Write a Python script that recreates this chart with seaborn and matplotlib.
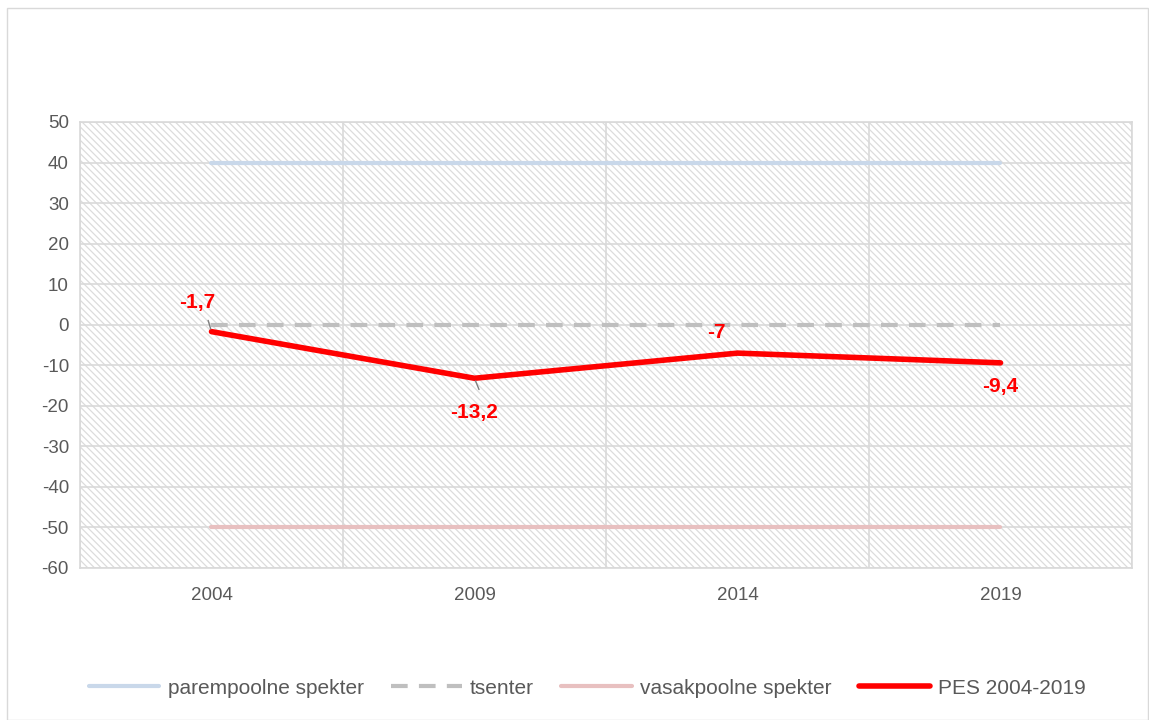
import matplotlib
matplotlib.use("Agg")
import matplotlib.pyplot as plt
import seaborn as sns
import pandas as pd
from matplotlib.patches import Rectangle

years = ["2004", "2009", "2014", "2019"]
parem = [40, 40, 40, 40]
tsenter = [0, 0, 0, 0]
vasak = [-50, -50, -50, -50]
pes = [-1.7, -13.2, -7, -9.4]
pes_labels = ["-1,7", "-13,2", "-7", "-9,4"]
yticks = list(range(-60, 51, 10))

sns.set_theme(style="white")
plt.rcParams['font.family'] = ['Liberation Sans', 'DejaVu Sans']
plt.rcParams['hatch.color'] = '#dcdcdc'
plt.rcParams['hatch.linewidth'] = 0.9

fig = plt.figure(figsize=(11.49, 7.2), dpi=100)
ax = fig.add_axes([80/1149, 1-568/720, (1132-80)/1149, (568-122)/720])

xs = list(range(len(years)))
df = pd.DataFrame({"x": xs, "parem": parem, "tsenter": tsenter, "vasak": vasak, "pes": pes})

ax.patch.set_facecolor('white')
ax.patch.set_hatch('\\' * 5)
ax.patch.set_edgecolor('#dcdcdc')

sns.lineplot(data=df, x="x", y="parem", ax=ax, color='#c9d8ea', linewidth=3, label='parempoolne spekter')
sns.lineplot(data=df, x="x", y="tsenter", ax=ax, color='#bfbfbf', linewidth=3, linestyle=(0, (4, 2.7)), label='tsenter')
sns.lineplot(data=df, x="x", y="vasak", ax=ax, color='#e8c0c0', linewidth=3, label='vasakpoolne spekter')
sns.lineplot(data=df, x="x", y="pes", ax=ax, color='#ff0000', linewidth=4, label='PES 2004-2019')

ax.set_xlim(-0.5, len(years) - 0.5)
ax.set_ylim(-60, 50)
ax.set_yticks(yticks)
ax.set_yticklabels([str(v) for v in yticks])
ax.set_xticks(xs)
ax.set_xticklabels(years)
ax.set_xticks([i - 0.5 for i in range(len(years) + 1)], minor=True)
ax.grid(True, which='major', axis='y', color='#d9d9d9', linewidth=1.2)
ax.grid(True, which='minor', axis='x', color='#d9d9d9', linewidth=1.2)
ax.grid(False, which='major', axis='x')
ax.tick_params(axis='both', which='both', length=0, labelsize=13.5, colors='#595959')
ax.tick_params(axis='x', pad=14)
ax.tick_params(axis='y', pad=8)
ax.set_xlabel("")
ax.set_ylabel("")
for s in ax.spines.values():
    s.set_color('#d9d9d9')
    s.set_linewidth(1.2)
ax.set_axisbelow(True)

# data labels
offsets = [(-10, 21), (0, -25), (-15, 15), (0, -17)]
for i, (v, lab) in enumerate(zip(pes, pes_labels)):
    dx, dy = offsets[i]
    ax.annotate(lab, xy=(xs[i], v), xytext=(dx, dy), textcoords='offset points',
                ha='center', va='center', color='#ff0000', fontweight='bold', fontsize=15)
# leader lines
ax.annotate("", xy=(xs[0], pes[0]), xytext=(-3, 10), textcoords='offset points',
            arrowprops=dict(arrowstyle='-', color='#7f7f7f', lw=1))
ax.annotate("", xy=(xs[1], pes[1]), xytext=(4, -10), textcoords='offset points',
            arrowprops=dict(arrowstyle='-', color='#7f7f7f', lw=1))

leg = ax.legend(loc='center', bbox_to_anchor=(0.511, (720 - 688) / 720), bbox_transform=fig.transFigure,
                ncol=4, frameon=False, fontsize=15, handlelength=3.4, columnspacing=1.3, handletextpad=0.4)
for t in leg.get_texts():
    t.set_color('#595959')

fig.patches.append(Rectangle((7/1149, 0), 1 - 7/1149 - 0.001, 1 - 8/720, transform=fig.transFigure,
                             fill=False, edgecolor='#d9d9d9', linewidth=1))

fig.savefig("out.png", dpi=100)
